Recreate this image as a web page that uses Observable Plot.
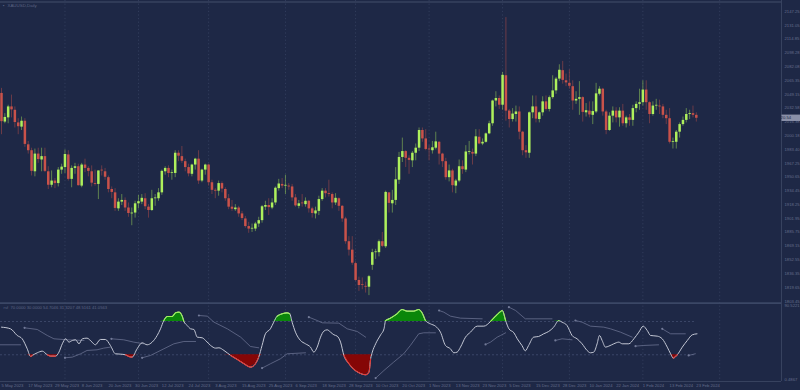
<!DOCTYPE html>
<html><head><meta charset="utf-8">
<script src="https://cdn.jsdelivr.net/npm/d3@7"></script>
<script src="https://cdn.jsdelivr.net/npm/@observablehq/plot@0.6"></script>
<style>
html,body{margin:0;padding:0;background:#1e2846;width:800px;height:390px;overflow:hidden}
#chart svg{display:block}
</style></head><body><div id="chart"></div>
<script>
// ---- Candles (XAUUSD daily, 5 May 2023 .. 23 Feb 2024), index = trading day ----
const opens = [
2050,2016,2021,2034,2030,2015,2010,2017,1989,1982,
1957,1978,1971,1975,1957,1941,1946,1943,1959,1962,
1977,1948,1961,1963,1940,1965,1961,1957,1943,1942,
1958,1957,1950,1936,1932,1913,1921,1923,1914,1907,
1908,1919,1921,1925,1915,1911,1925,1925,1932,1957,
1961,1955,1955,1979,1975,1969,1962,1954,1965,1972,
1946,1959,1965,1944,1935,1934,1943,1936,1925,1915,
1912,1914,1907,1901,1892,1889,1889,1895,1899,1915,
1917,1914,1920,1937,1942,1940,1940,1939,1926,1916,
1919,1918,1922,1913,1907,1910,1924,1934,1931,1930,
1920,1925,1916,1901,1874,1864,1848,1828,1822,1821,
1820,1846,1861,1861,1874,1868,1932,1919,1923,1947,
1974,1981,1973,1970,1979,1985,2006,1996,1983,1982,
1985,1992,1978,1969,1950,1958,1940,1946,1963,1959,
1980,1980,1978,1998,1990,1992,2002,2014,2041,2044,
2036,2071,2029,2019,2025,2028,2004,1982,1979,2027,
2034,2019,2027,2040,2031,2045,2053,2067,2077,2065,
2062,2058,2041,2043,2045,2027,2029,2024,2028,2049,
2055,2028,2006,2023,2029,2021,2029,2014,2021,2018,
2032,2037,2039,2054,2039,2025,2035,2035,2034,2024,
2020,1992,1992,2004,2013,2018,2025,2026,2024];
const highs = [
2056,2026,2036,2048,2034,2020,2022,2020,1993,1985,
1984,1985,1985,1985,1963,1958,1949,1962,1966,1983,
1982,1964,1967,1966,1967,1972,1963,1964,1959,1958,
1964,1961,1952,1939,1937,1925,1930,1926,1920,1914,
1922,1929,1930,1931,1918,1935,1930,1937,1959,1963,
1964,1959,1982,1982,1987,1972,1966,1966,1973,1982,
1960,1966,1966,1947,1937,1946,1945,1938,1930,1923,
1918,1916,1910,1904,1897,1895,1897,1903,1917,1922,
1925,1925,1939,1948,1949,1953,1943,1942,1930,1923,
1930,1926,1923,1915,1915,1928,1937,1937,1947,1932,
1931,1926,1917,1903,1880,1880,1850,1832,1831,1826,
1834,1865,1865,1876,1885,1934,1932,1935,1962,1980,
1997,1982,1976,1981,1990,2009,2009,2007,1988,1993,
2004,1993,1979,1973,1965,1960,1948,1971,1970,1988,
1993,1984,2007,2007,1996,2003,2017,2042,2052,2047,
2075,2140,2031,2032,2035,2034,2005,1988,2028,2047,
2047,2028,2046,2047,2047,2071,2069,2084,2088,2073,
2078,2065,2052,2064,2046,2038,2040,2040,2062,2058,
2056,2030,2027,2034,2033,2033,2037,2023,2025,2036,
2040,2055,2065,2065,2040,2040,2043,2042,2037,2030,
2032,1997,2006,2015,2022,2032,2030,2035,2027];
const lows = [
2001,2014,2014,2021,2009,2001,2006,1986,1978,1952,
1951,1967,1957,1956,1936,1938,1937,1939,1954,1955,
1946,1938,1954,1940,1938,1956,1951,1939,1940,1924,
1952,1947,1932,1925,1910,1910,1917,1910,1903,1893,
1902,1913,1918,1912,1902,1910,1916,1922,1929,1953,
1950,1947,1950,1969,1967,1957,1951,1951,1959,1942,
1944,1953,1940,1930,1925,1928,1932,1922,1912,1910,
1910,1903,1899,1890,1884,1885,1886,1891,1896,1911,
1905,1912,1917,1934,1937,1930,1935,1922,1915,1913,
1915,1915,1908,1902,1901,1905,1922,1926,1927,1913,
1917,1910,1897,1871,1857,1846,1827,1815,1817,1813,
1810,1840,1853,1856,1867,1866,1908,1908,1917,1942,
1968,1962,1954,1962,1970,1981,1992,1982,1970,1978,
1983,1965,1962,1947,1945,1932,1931,1944,1954,1956,
1977,1965,1975,1989,1988,1991,2001,2011,2034,2031,
2030,2017,2009,2016,2016,1995,1976,1973,1973,2020,
2015,2015,2023,2029,2028,2043,2049,2064,2061,2058,
2055,2030,2037,2024,2016,2022,2021,2013,2026,2047,
2023,2001,2005,2015,2015,2010,2011,2009,2011,2011,
2027,2030,2035,2030,2014,2023,2030,2025,2020,2013,
1990,1984,1984,1997,2011,2015,2019,2021,2016];
const closes = [
2016.5,2021.5,2034,2030.5,2015.5,2010.5,2017,1989.5,1982,1957.5,
1978,1971.5,1975,1957.5,1941,1946,1943,1959,1962.5,1977.5,
1948,1961,1963,1940.5,1965,1961,1957.5,1943.5,1942,1958,
1957.5,1950.5,1936,1932.5,1913.5,1921,1923,1914,1907.5,1908,
1919,1921.5,1925.5,1915.5,1911,1925,1925,1932,1957.5,1961,
1955,1955,1979,1975.5,1969.5,1962,1954.5,1965,1972,1946,
1959,1965,1944,1935,1934,1943,1936.5,1925,1915,1912.5,
1914,1907,1901.5,1892,1889,1889.5,1895,1899,1915.5,1917,
1914.5,1920,1937.5,1942.5,1940,1940,1939,1926,1916.5,1919,
1918.5,1922,1913,1907.5,1910.5,1924,1934,1931,1930,1920,
1925.5,1916,1901,1874,1864,1848.5,1828,1822,1821.5,1820,
1832.5,1861,1861,1874,1868.5,1932.5,1919.5,1923,1947.5,1974,
1981,1973,1970.5,1979,1985,2006,1996,1983.5,1982.5,1985.5,
1992.5,1978,1969,1950,1958,1940.5,1946,1963,1959.5,1980.5,
1980.5,1978,1998.5,1990,1992,2002,2014,2041,2044,2036,
2071.5,2029,2019,2025.5,2028,2004,1982,1979.5,2027,2034,
2019.5,2027,2040,2031,2045,2053,2067,2077.5,2065.5,2062.5,
2058.5,2041,2043,2045,2027.5,2029.5,2024.5,2028.5,2049.5,2055,
2028,2006,2023,2029,2021,2029,2014,2021,2018,2032,
2037,2039,2054,2039,2025,2035,2035,2034,2024,2020,
1992,1992,2004,2013,2018,2025,2026,2024,2020.5];

const dateLabels = ["5 May 2023","17 May 2023","29 May 2023","8 Jun 2023","20 Jun 2023","30 Jun 2023","12 Jul 2023","24 Jul 2023","3 Aug 2023","15 Aug 2023","25 Aug 2023","6 Sep 2023","18 Sep 2023","28 Sep 2023","10 Oct 2023","20 Oct 2023","1 Nov 2023","13 Nov 2023","23 Nov 2023","5 Dec 2023","15 Dec 2023","28 Dec 2023","10 Jan 2024","22 Jan 2024","1 Feb 2024","13 Feb 2024","23 Feb 2024"];
const dateLabelStep = 8;
const monthStarts = [19,41,62,85,106,128,150,170,192,215];
const priceLabels = ["2147.25","2131.05","2114.85","2098.28","2082.08","2065.35","2049.15","2032.58","2016.38","2000.18","1983.40","1967.25","1950.65","1934.45","1918.25","1901.95","1885.75","1869.15","1852.55","1836.35","1819.65","1803.45"];
const lastPriceLabel = "2020.54";
const chartTitle = "XAUUSD,Daily";

// ---- Oscillator (index, value) ----
const oscIdx = [0,2.7,4.7,6.2,7.7,8.7,9.2,10.7,12.2,13.7,14.7,16.2,17.2,18.2,19.2,20.2,21.2,22.2,23.2,24.2,25.6,27.1,28.1,29.6,31.1,32.6,34.1,35.6,37.1,38.1,39.1,40.6,42.1,43.6,45.1,46.6,47.6,48.6,49.6,51.1,52.1,53.1,54.1,54.6,55.6,56.6,57.6,58.6,60.1,61.1,62.6,64.1,65.1,66.6,68.6,70.6,72.6,74.6,
76,77,78,79,80.5,81.5,82.5,84,85.5,86.3,87,88,89.5,91,92.5,93.5,94.5,95.5,96.5,97.5,98.5,99.5,100.5,101.5,102.5,104,105.5,107,109,110,110.5,111,112,113.5,114.5,115,116.4,118.4,119.9,121.4,123.4,124.9,125.9,126.9,128.4,129.9,131.4,132.9,134.4,135.4,136.4,137.4,138.9,140.4,142.4,144.4,146.4,147.9,149.4,
149.9,150.9,151.9,153.4,154.4,155.8,156.8,157.8,159.3,160.8,162.3,163.8,165.3,166.8,167.8,169.3,170.8,172.3,173.8,175.3,176.3,177.3,178.3,179,179.8,180.8,181.8,183.3,184.8,185.8,187.8,189.3,190.8,192.1,193.3,194.3,196.3,197.8,199.3,200.3,201.1,202.3,203.8,205.3,206.8,208.2];
const oscVal = [63.2,61.2,53.2,49.2,37.2,28,29.2,32.4,34.4,30,28.4,28.4,33.2,43.2,49.2,45.2,47.2,48,43.2,49.2,50,45.2,42,48.4,48.4,41.2,31.2,30.8,30,28,27.2,37.2,44.4,42,45.2,53.2,61.2,71.2,76,76,80.4,81.2,76.4,70,65.2,61.2,60.4,51.2,50.4,47.2,41.2,38,38.4,35.2,29.2,24.4,19.2,15.2,
19.2,27.2,41.2,55.2,61.2,69.2,76.4,79.2,80.4,79.2,69.2,57.2,47.2,43.2,39.2,33.2,39.2,51.2,58.4,60,57.2,54,52.4,45.2,29.2,19.2,12.4,8.4,6,9.2,25.2,33.2,43.2,54,61.2,71.2,74,79.2,84.4,82.4,82.4,84.4,80.4,71.2,67.2,64.4,57.2,41.2,37.2,32.4,33.2,39.2,51.2,57.2,64.4,64.4,70,76.4,82,
83.2,71.2,61.2,56.4,49.2,41.2,34.8,41.2,51.2,52,55.2,58,63.2,71,69.2,65.2,53.2,49.2,43.2,35.2,32.4,33.2,43.2,53.2,47.2,39.2,40.4,43.2,45.2,43.2,43.2,49.2,57.2,64.4,59.2,53.2,52.4,49.2,39.2,31.2,26,30,39.2,47.2,54,55.2];
const upperLevel = 70, lowerLevel = 30;
const oscHeader = "rsf  70.0000 30.0000 54.7046 31.3207 48.5161 41.0563";
const oscTopLabel = "90.5221", oscBottomLabel = "0.4867";

// ---- Grey signal segments [index, value] ----
const sigSegments = [
 [[-2,42],[5.7,42]],
 [[6.9,62.4],[10.7,60.4],[13.7,53.2],[15.7,49.2],[19.7,48],[24.7,47.2]],
 [[19,26.4],[21.2,27.2],[23.7,31.2],[25.6,35.2],[28.6,36],[30.6,38],[32.6,39.2]],
 [[32.9,49.2],[36.6,48],[39.6,45.2],[42.6,43.2]],
 [[42.1,26.4],[44.6,29.2],[46.6,33.2],[48.6,37.2],[51.6,43.2],[54.6,46],[58.1,46]],
 [[59.1,77.2],[61.6,76.4],[63.6,69.2],[67.6,61.2],[71.6,51.2],[74.5,40],[77,38.4]],
 [[78,14],[80.5,19.2],[83.5,25.2],[85.5,31.2],[91,32.4]],
 [[92,75.2],[94.5,71.2],[96,68.4],[101,68],[103.5,61.2],[106.5,58],[109,51.2]],
 [[112,2],[114.5,11.2],[117.4,21.2],[120.4,31.2],[122.4,41.2],[124.9,55.2],[126.4,56.4],[129.9,56.4]],
 [[131,83.2],[132.4,81.2],[134.4,76.4],[137.4,74],[143.9,73.2]],
 [[144.9,42.4],[146.4,45.2],[148.4,51.2],[149.4,53.2],[150.9,56.4]],
 [[151.9,87.2],[153.9,83.2],[156.8,73.2],[164.8,73.2]],
 [[165.8,47.2],[167.8,49.2],[170.8,48]],
 [[171.8,71.2],[173.8,69.2],[176.3,64.4],[180.3,63.2],[182.3,61.2],[185.3,57.2],[188.8,51.2]],
 [[189.8,40.4],[192.3,41.2],[196.7,42]],
 [[197.8,61.2],[200.3,55.2],[204.7,55.2]],
 [[205.7,29.2],[207.7,31.2]]
];

// ---- build ----
const W = 800, H1 = 302, H2 = 88, MR = 19;
const xDomain = [-0.3, 233.5];
const priceDomain = [1801.85, 2160.3];
const oscDomain = [-2.07, 92.8];
const FONT = "Liberation Sans, Arial, sans-serif";
const TXT = "#646d8b", GRID = "#34405f", BORDER = "#37425f";
const UP = "#aef05c", DN = "#c9524a";

const candles = opens.map((o, i) => ({i, o, h: highs[i], l: lows[i], c: closes[i]}));
const osc = oscIdx.map((i, k) => ({i, v: oscVal[k]}));
const sigPts = sigSegments.flatMap((s, k) => s.map(([i, v]) => ({s: k, i, v})));
const sigStarts = sigSegments.map((s, k) => ({s: k, i: s[0][0], v: s[0][1]}));
const lastIdx = candles.length - 1;
const col = d => d.c >= d.o ? UP : DN;

const main = Plot.plot({
  width: W, height: H1, marginLeft: 0, marginRight: MR, marginTop: 0, marginBottom: 0,
  style: {background: "transparent", fontFamily: FONT, overflow: "visible"},
  x: {domain: xDomain, axis: null},
  y: {domain: priceDomain, axis: null},
  marks: [
    Plot.ruleX(monthStarts, {stroke: GRID, strokeDasharray: "1.2,2.4", strokeWidth: 0.9}),
    Plot.ruleY([priceDomain[1]], {stroke: BORDER, strokeWidth: 1.4, dy: 1.5}),
    Plot.ruleX([xDomain[1]], {stroke: BORDER, strokeWidth: 1}),
    Plot.ruleX(candles, {x: "i", y1: "l", y2: "h", stroke: col, strokeOpacity: 0.5, strokeWidth: 0.9}),
    Plot.ruleX(candles, {x: "i", y1: "o", y2: d => Math.abs(d.c - d.o) < 0.9 ? d.o + 0.9 : d.c, stroke: col, strokeWidth: 2.5}),
    Plot.text(priceLabels, {y: d => +d, text: d => d, frameAnchor: "right", textAnchor: "start", dx: 3, fill: TXT, fontSize: 4.2}),
    Plot.text([chartTitle], {frameAnchor: "top-left", dx: 7, dy: 3.5, textAnchor: "start", lineAnchor: "top", fill: "#5c6584", fontSize: 4.4}),
    Plot.text(["\u25aa"], {frameAnchor: "top-left", dx: 2.5, dy: 3.2, textAnchor: "start", lineAnchor: "top", fill: "#5c6584", fontSize: 4.4})
  ]
});

const curve = "monotone-x";
const above = d => Math.max(d.v, upperLevel);
const below = d => Math.min(d.v, lowerLevel);
const lower = Plot.plot({
  width: W, height: H2, marginLeft: 0, marginRight: MR, marginTop: 0, marginBottom: 9,
  style: {background: "transparent", fontFamily: FONT, overflow: "visible"},
  x: {domain: xDomain, axis: null},
  y: {domain: oscDomain, axis: null},
  marks: [
    Plot.ruleX(monthStarts, {stroke: GRID, strokeDasharray: "1.2,2.4", strokeWidth: 0.9}),
    Plot.ruleY([oscDomain[1]], {stroke: "#3b4766", strokeWidth: 1.8, dy: 0.6}),
    Plot.ruleY([oscDomain[0]], {stroke: BORDER, strokeWidth: 1}),
    Plot.ruleX([xDomain[1]], {stroke: BORDER, strokeWidth: 1}),
    Plot.ruleY([upperLevel, lowerLevel], {x1: xDomain[0], x2: lastIdx, stroke: "#3e4a6b", strokeDasharray: "2,2", strokeWidth: 0.9}),
    Plot.areaY(osc, {x: "i", y1: upperLevel, y2: above, fill: "#0a860a", curve: "linear"}),
    Plot.areaY(osc, {x: "i", y1: lowerLevel, y2: below, fill: "#850606", curve: "linear"}),
    Plot.line(sigPts, {x: "i", y: "v", z: "s", stroke: "#68708f", strokeWidth: 0.8}),
    Plot.dot(sigStarts, {x: "i", y: "v", r: 1.1, fill: "#727a98"}),
    Plot.line(osc, {x: "i", y: "v", stroke: "#c3c7d4", strokeWidth: 1, curve}),
    Plot.line(osc, {x: "i", y: d => d.v >= upperLevel ? d.v : NaN, stroke: "#9cf05a", strokeWidth: 1.1, curve}),
    Plot.line(osc, {x: "i", y: d => d.v <= lowerLevel ? d.v : NaN, stroke: "#e23a35", strokeWidth: 1.1, curve}),
    Plot.text([oscHeader], {frameAnchor: "top-left", dx: 3, dy: 3.5, textAnchor: "start", lineAnchor: "top", fill: "#5c6584", fontSize: 4.2}),
    Plot.text([oscTopLabel], {frameAnchor: "top-right", dx: 3, dy: 2, textAnchor: "start", lineAnchor: "top", fill: TXT, fontSize: 4.2}),
    Plot.text([oscBottomLabel], {frameAnchor: "bottom-right", dx: 3, dy: -1, textAnchor: "start", lineAnchor: "bottom", fill: TXT, fontSize: 4.2}),
    Plot.text(dateLabels, {x: (d, k) => k * dateLabelStep, frameAnchor: "bottom", textAnchor: "start", lineAnchor: "top", dy: 2.2, fill: TXT, fontSize: 4.2})
  ]
});

// last-price box on the price axis, placed with the plot's own scales
const yb = main.scale("y").apply(closes[lastIdx]);
const xr = main.scale("x").apply(xDomain[1]);
const box = d3.select(main).append("g");
box.append("rect").attr("x", xr + 0.5).attr("y", yb - 3.2).attr("width", W - xr - 0.5).attr("height", 6.4).attr("fill", "#8a90a8");
box.append("text").attr("x", xr + 2.5).attr("y", yb).attr("dy", "0.35em").attr("font-size", 4.2).attr("font-family", FONT).attr("fill", "#1e2846").text(lastPriceLabel);

document.getElementById("chart").append(main, lower);
</script>
</body></html>
